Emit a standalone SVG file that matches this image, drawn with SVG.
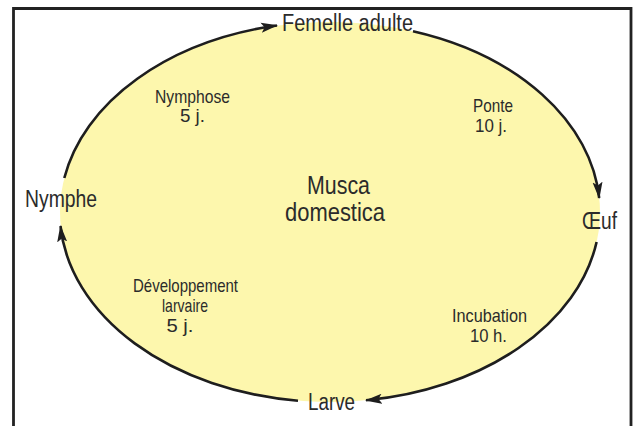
<svg xmlns="http://www.w3.org/2000/svg" width="633" height="426" viewBox="0 0 633 426">
<style>
text{font-family:"Liberation Sans Narrow","Liberation Sans",Arial,sans-serif;fill:#2b2b2b;text-anchor:middle}
.big{font-size:23px}
.mid{font-size:18.5px}
.title{font-size:25px}
.arc{fill:none;stroke:#1e1e1e;stroke-width:2.6;marker-end:url(#ah)}
</style>
<defs>
<marker id="ah" markerUnits="userSpaceOnUse" markerWidth="18" markerHeight="12" refX="16" refY="6" orient="auto" viewBox="0 0 18 12">
<path d="M0,1 L17,6 L0,11 L3.5,6 Z" fill="#1e1e1e"/>
</marker>
</defs>
<rect x="0" y="0" width="633" height="426" fill="#ffffff"/>
<path d="M13.5,430 V8.5 H631 V430" fill="none" stroke="#222" stroke-width="2.8"/>
<ellipse id="cycle" cx="330" cy="212" rx="270" ry="190" fill="#fdf7ad"/>
<g id="connectors">
<path class="arc" d="M64.3,178 A270,190 0 0 1 277,25.5"/>
<path class="arc" d="M413,31.2 A270,190 0 0 1 599.2,198"/>
<path class="arc" d="M596.6,242 A270,190 0 0 1 366,400.3"/>
<path class="arc" d="M298,400.7 A270,190 0 0 1 60.5,226"/>
</g>
<g id="femelle"><text class="big" x="347.5" y="31" textLength="131" lengthAdjust="spacingAndGlyphs">Femelle adulte</text></g>
<g id="oeuf"><text class="big" x="599.5" y="229" textLength="35" lengthAdjust="spacingAndGlyphs">Œuf</text></g>
<g id="larve"><text class="big" x="331.5" y="410" textLength="47" lengthAdjust="spacingAndGlyphs">Larve</text></g>
<g id="nymphe"><text class="big" x="61" y="207" textLength="72" lengthAdjust="spacingAndGlyphs">Nymphe</text></g>
<g id="center">
<text class="title" x="338.5" y="194" textLength="63" lengthAdjust="spacingAndGlyphs">Musca</text>
<text class="title" x="335" y="221" textLength="100" lengthAdjust="spacingAndGlyphs">domestica</text>
</g>
<g id="nymphose">
<text class="mid" x="192.5" y="103" textLength="75" lengthAdjust="spacingAndGlyphs">Nymphose</text>
<text class="mid" x="192.5" y="122" textLength="25" lengthAdjust="spacingAndGlyphs">5 j.</text>
</g>
<g id="ponte">
<text class="mid" x="493" y="112" textLength="40" lengthAdjust="spacingAndGlyphs">Ponte</text>
<text class="mid" x="491" y="132" textLength="32" lengthAdjust="spacingAndGlyphs">10 j.</text>
</g>
<g id="developpement">
<text class="mid" x="185.5" y="292" textLength="105" lengthAdjust="spacingAndGlyphs">Développement</text>
<text class="mid" x="185" y="312" textLength="46" lengthAdjust="spacingAndGlyphs">larvaire</text>
<text class="mid" x="180" y="332" textLength="27" lengthAdjust="spacingAndGlyphs">5 j.</text>
</g>
<g id="incubation">
<text class="mid" x="489.5" y="322" textLength="75" lengthAdjust="spacingAndGlyphs">Incubation</text>
<text class="mid" x="488.5" y="342" textLength="37" lengthAdjust="spacingAndGlyphs">10 h.</text>
</g>
</svg>
